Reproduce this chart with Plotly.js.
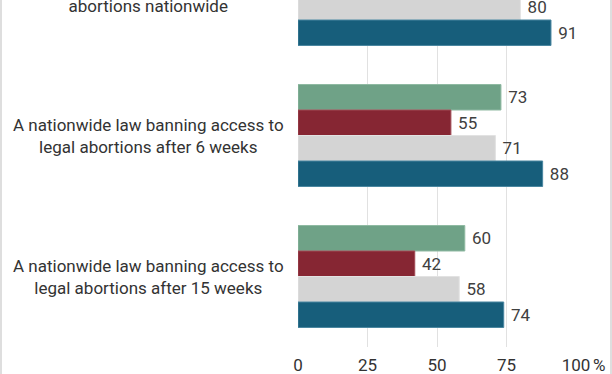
<!DOCTYPE html>
<html>
<head>
<meta charset="utf-8">
<script src="https://cdn.plot.ly/plotly-3.0.1.min.js"></script>
<style>
html,body{margin:0;padding:0;width:612px;height:374px;overflow:hidden;background:#fff;}
#frame{position:absolute;left:0;top:-100px;width:612px;height:520px;box-sizing:border-box;border:2px solid #dedede;}
#chart{position:absolute;left:0;top:-100px;width:612px;height:474px;}
</style>
</head>
<body>
<div id="frame"></div>
<div id="chart"></div>
<script>
// Categories (first group is cropped at the top of the reference image)
const categories = [
  "A nationwide law legalizing<br>abortions nationwide",
  "A nationwide law banning access to<br>legal abortions after 6 weeks",
  "A nationwide law banning access to<br>legal abortions after 15 weeks"
];
// Series (legend not visible in the reference; names are placeholders)
const seriesNames = ["Series 1", "Series 2", "Series 3", "Series 4"];
const greenValues = [null, 73, 60];   // first-group value cropped out of view
const redValues   = [null, 55, 42];   // first-group value cropped out of view
const grayValues  = [80, 71, 58];
const blueValues  = [91, 88, 74];
const colors = ["#6fa287", "#862633", "#d4d4d4", "#175e7b"];
const lineColors = ["#8fb9a2", "#a04a55", "#e2e2e2", "#4a86a0"];
const tickVals = [0, 25, 50, 75, 100];
const tickText = ["0", "25", "50", "75", "100"];

const allValues = [greenValues, redValues, grayValues, blueValues];
const idx = categories.map((c, i) => i);
const FONT = "Roboto, sans-serif";

const traces = allValues.map((vals, s) => ({
  type: "bar",
  orientation: "h",
  name: seriesNames[s],
  y: idx,
  x: vals,
  text: vals.map(v => v == null ? "" : " " + v),
  textposition: "outside",
  cliponaxis: false,
  constraintext: "none",
  textfont: {family: FONT, size: 17, color: "#404040"},
  marker: {color: colors[s], line: {color: lineColors[s], width: 1}},
  hoverinfo: "none"
}));

const annotations = categories.map((c, i) => ({
  xref: "paper", yref: "y",
  x: (148 - 298) / 278, y: i,
  xanchor: "center", yanchor: "middle",
  text: c, showarrow: false, align: "center",
  font: {family: FONT, size: 17, color: "#333333"}
}));
annotations.push({
  xref: "x", yref: "paper", x: 100, y: 0, yanchor: "middle", xanchor: "left",
  xshift: 15, yshift: -18,
  text: "%", showarrow: false,
  font: {family: FONT, size: 17, color: "#333333"}
});

const layout = {
  width: 612, height: 474,
  margin: {l: 298, r: 36, t: 24, b: 27},
  paper_bgcolor: "rgba(0,0,0,0)",
  plot_bgcolor: "rgba(0,0,0,0)",
  barmode: "group",
  bargap: 0.277,
  bargroupgap: 0,
  showlegend: false,
  font: {family: FONT, size: 17, color: "#333333"},
  xaxis: {
    range: [0, 100],
    tickvals: tickVals, ticktext: tickText,
    showgrid: true, gridcolor: "#e1e1e1", gridwidth: 1,
    zeroline: false, showline: false, ticks: "",
    ticklabelstandoff: 6,
    tickfont: {family: FONT, size: 17, color: "#333333"},
    fixedrange: true
  },
  yaxis: {
    type: "linear",
    range: [2.5, -0.5],
    showticklabels: false, showgrid: false, zeroline: false, ticks: "",
    fixedrange: true
  },
  annotations: annotations
};

Plotly.newPlot("chart", traces, layout, {displayModeBar: false, staticPlot: true});
</script>
</body>
</html>
